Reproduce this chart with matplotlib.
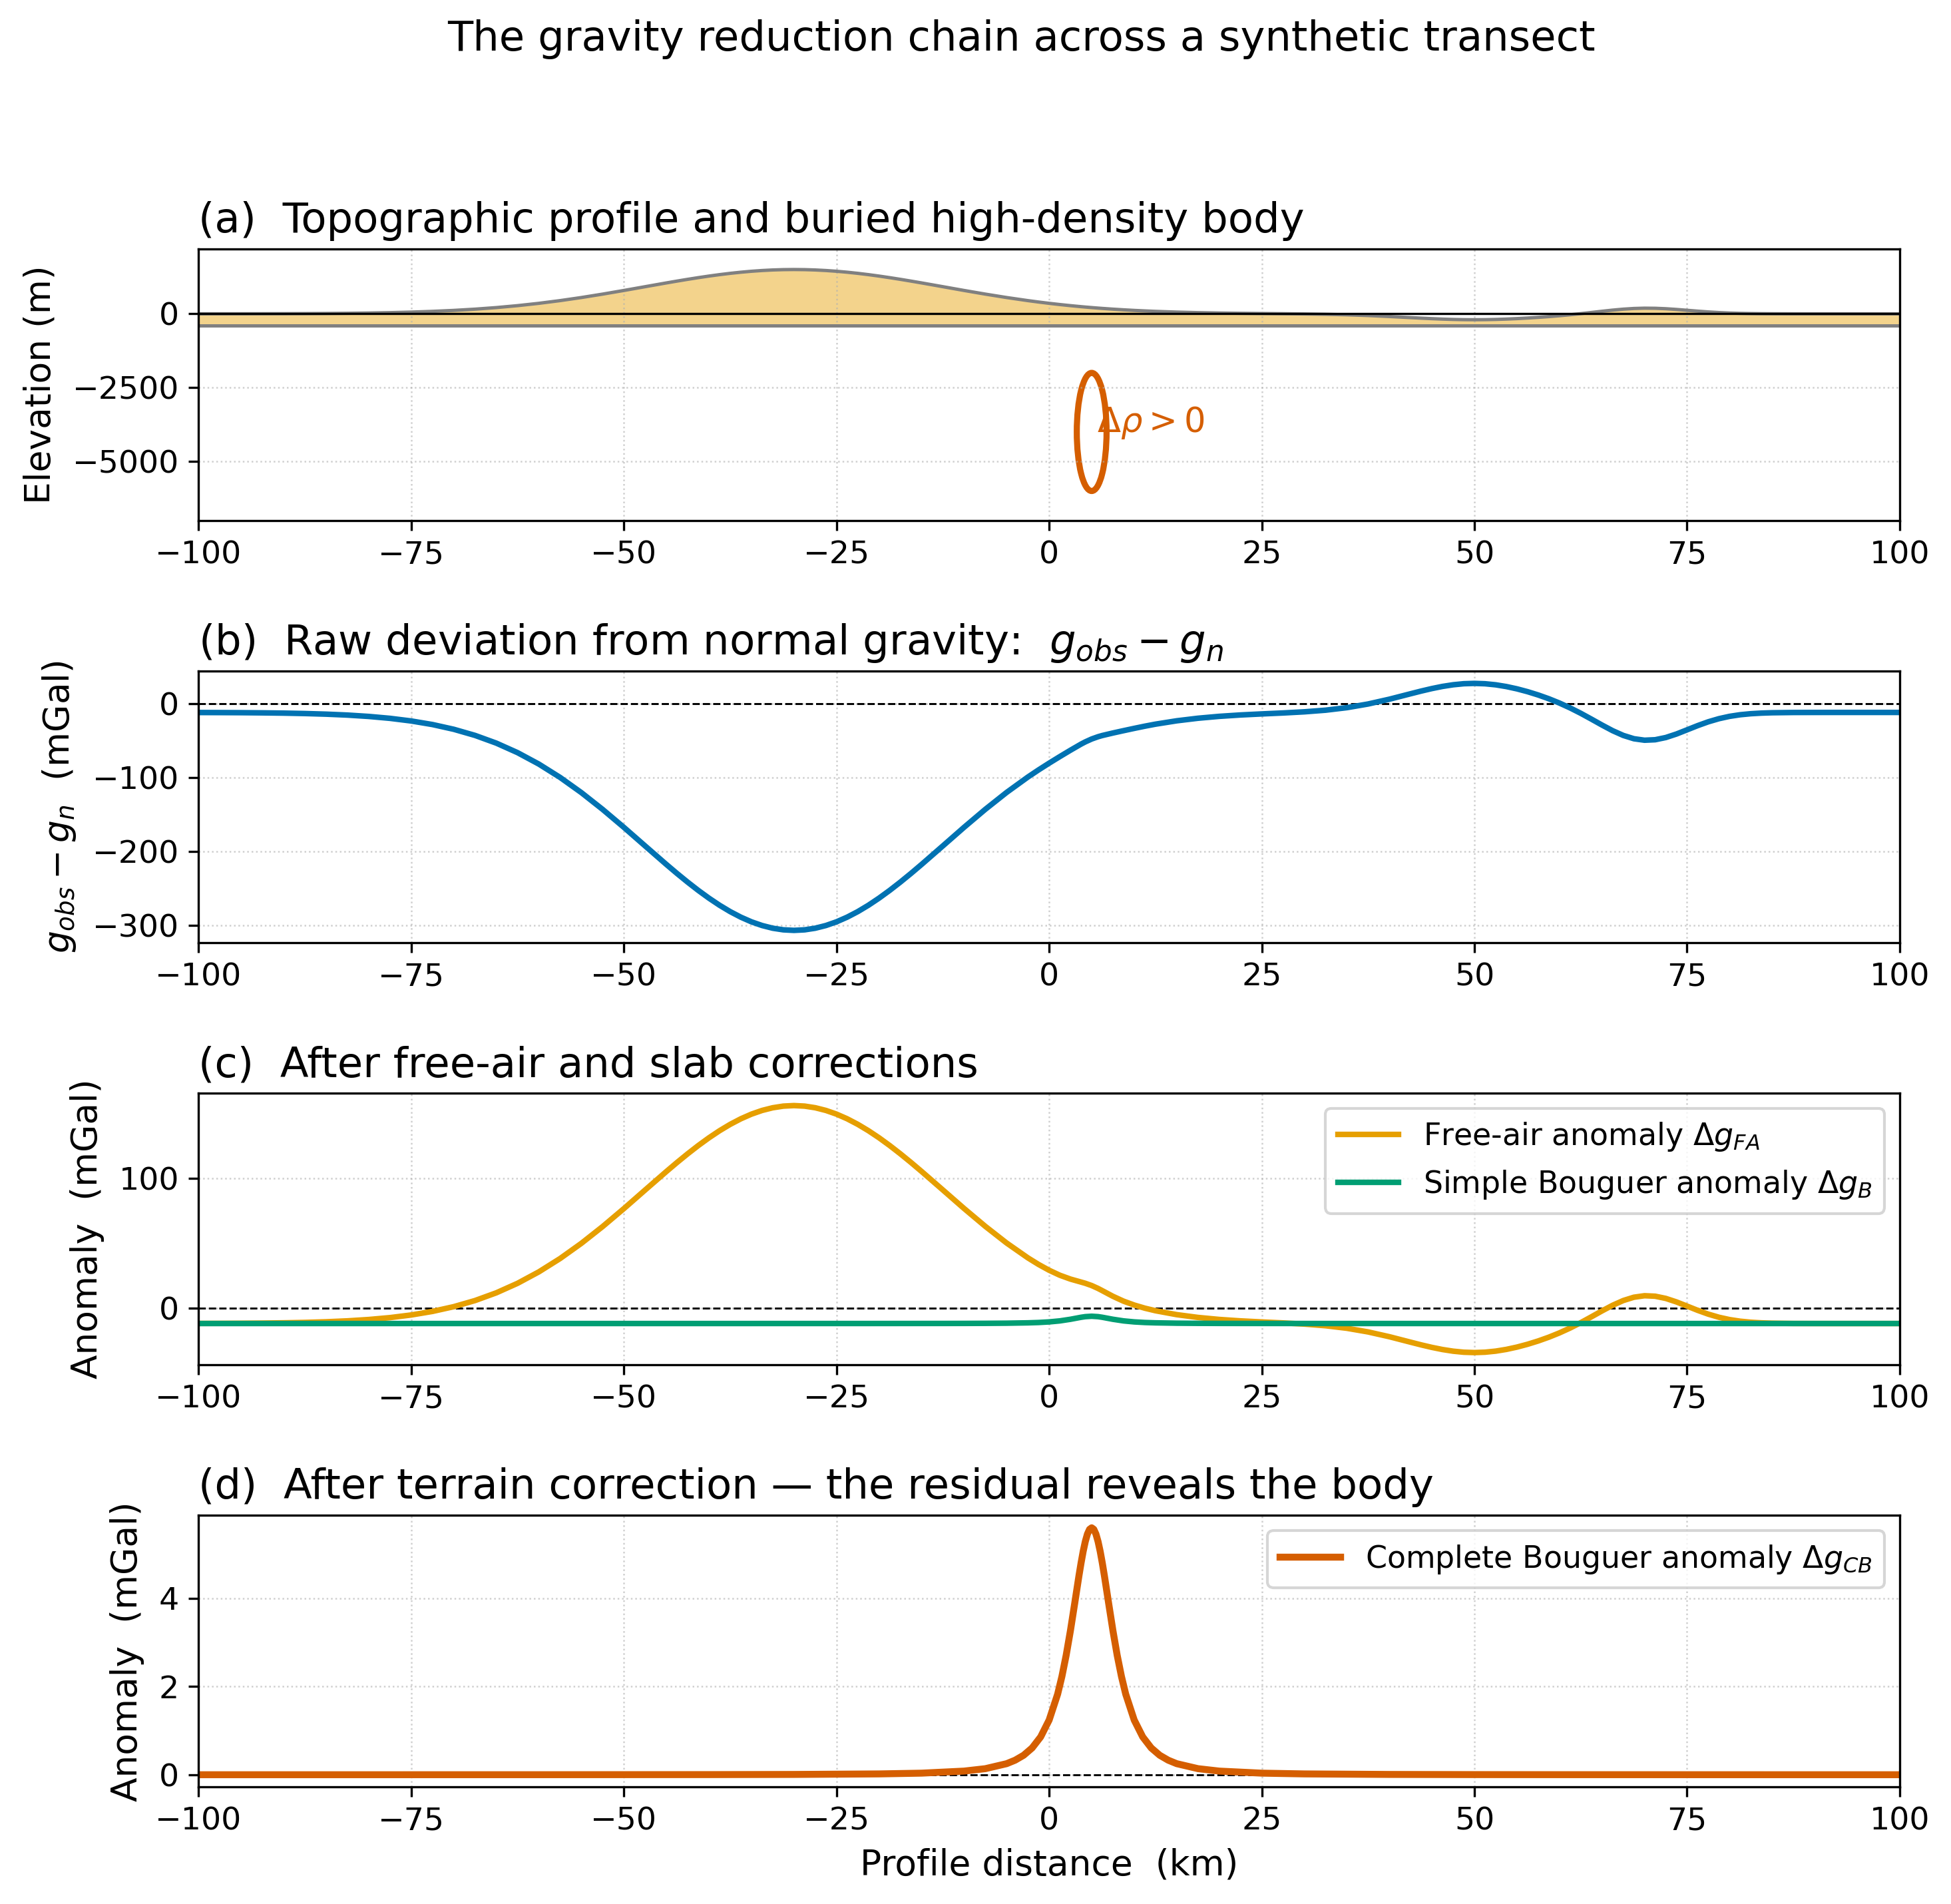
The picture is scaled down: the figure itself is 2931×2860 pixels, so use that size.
import matplotlib
matplotlib.use("Agg")
import matplotlib.pyplot as plt
from matplotlib.patches import Ellipse

# profile distance (km)
x_km = [-100, -97.5, -95, -92.5, -90, -87.5, -85, -82.5, -80, -77.5, -75, -72.5,
        -70, -67.5, -65, -62.5, -60, -57.5, -55, -52.5, -50, -47.5, -45, -42.5,
        -40, -37.5, -35, -32.5, -30, -27.5, -25, -22.5, -20, -17.5, -15, -12.5,
        -10, -7.5, -5, -2.5, -1.25, 0, 1.25, 2.5, 3.75, 5, 6.25, 7.5, 8.75, 10,
        11.25, 12.5, 15, 17.5, 20, 22.5, 25, 27.5, 30, 32.5, 35, 37.5, 40, 42.5,
        45, 47.5, 50, 52.5, 55, 57.5, 60, 62.5, 65, 67.5, 70, 72.5, 75, 77.5, 80,
        82.5, 85, 87.5, 90, 92.5, 95, 97.5, 100]

# topography (m)
topo_m = [0.6, 1.0, 1.7, 2.9, 4.7, 7.6, 11.9, 18.2, 27.5, 40.6, 58.8, 83.4,
          116.0, 158.1, 211.3, 276.8, 355.4, 447.3, 551.8, 667.3, 790.9, 919.0,
          1046.5, 1168.2, 1278.2, 1370.9, 1441.2, 1485.1, 1500.0, 1485.1, 1441.2,
          1370.9, 1278.2, 1168.2, 1046.5, 919.0, 790.9, 667.3, 551.8, 447.3,
          399.7, 355.4, 314.4, 276.8, 242.4, 211.3, 183.2, 158.1, 135.7, 116.0,
          98.6, 83.4, 58.8, 40.6, 27.3, 17.7, 10.4, 3.8, -4.1, -15.4, -32.8,
          -58.0, -91.0, -128.6, -164.3, -190.4, -199.9, -190.1, -162.3, -120.1,
          -64.5, 5.9, 86.8, 158.2, 191.2, 172.7, 119.8, 64.4, 26.9, 8.8, 2.2,
          0.4, 0.1, 0.0, 0.0, 0.0, 0.0]

# g_obs - g_n (mGal)
raw_dev = [-12.12, -12.20, -12.33, -12.57, -12.92, -13.49, -14.34, -15.58, -17.41,
           -19.99, -23.57, -28.40, -34.82, -43.10, -53.56, -66.45, -81.91, -99.98,
           -120.54, -143.26, -167.57, -192.77, -217.85, -241.78, -263.42, -281.66,
           -295.48, -304.12, -307.04, -304.11, -295.47, -281.65, -263.40, -241.75,
           -217.81, -192.72, -167.49, -143.12, -120.29, -99.46, -89.84, -80.67,
           -71.82, -63.19, -54.88, -47.96, -43.24, -39.84, -36.67, -33.58, -30.61,
           -27.88, -23.32, -19.85, -17.29, -15.43, -14.01, -12.72, -11.17, -8.96,
           -5.54, -0.58, 5.91, 13.30, 20.32, 25.45, 27.32, 25.39, 19.92, 11.62,
           0.69, -13.16, -29.07, -43.12, -49.61, -45.97, -35.56, -24.67, -17.29,
           -13.73, -12.43, -12.08, -12.02, -12.0, -12.0, -12.0, -12.0]

# free-air anomaly (mGal)
free_air = [-11.93, -11.89, -11.81, -11.68, -11.47, -11.15, -10.67, -9.96, -8.92,
            -7.46, -5.42, -2.67, 0.98, 5.69, 11.64, 18.97, 27.77, 38.05, 49.75,
            62.67, 76.50, 90.84, 105.10, 118.72, 131.03, 141.40, 149.27, 154.18,
            155.86, 154.19, 149.28, 141.41, 131.05, 118.75, 105.14, 90.89, 76.58,
            62.81, 50.00, 38.57, 33.51, 29.01, 25.20, 22.23, 19.92, 17.24, 13.30,
            8.95, 5.20, 2.22, -0.19, -2.15, -5.17, -7.32, -8.87, -9.97, -10.80,
            -11.54, -12.44, -13.71, -15.66, -18.48, -22.17, -26.39, -30.39, -33.31,
            -34.37, -33.27, -30.16, -25.44, -19.22, -11.34, -2.29, 5.70, 9.40, 7.33,
            1.41, -4.79, -8.99, -11.02, -11.75, -11.96, -11.99, -12.0, -12.0, -12.0,
            -12.0]

# simple Bouguer anomaly (mGal)
bouguer = [-12.0] * 27 + [
    -11.99, -11.99, -11.99, -11.99, -11.99, -11.98, -11.97, -11.96, -11.95,
    -11.92, -11.86, -11.75, -11.48, -11.22, -10.76, -9.98, -8.74, -7.20, -6.40,
    -7.20, -8.74, -9.98, -10.76, -11.22, -11.48, -11.75, -11.86, -11.92, -11.95,
    -11.96, -11.97, -11.98, -11.99, -11.99, -11.99, -11.99] + [-12.0] * 24

# extra readings where the curves bend most
x_extra = [-43.75, -41.25, -38.75, -36.25, -33.75, -31.25, -28.75, -26.25, -23.75,
           -21.25, -18.75, -16.25, 4.25, 5.75, 43.75, 46.25, 48.75, 51.25, 53.75,
           56.25, 58.75, 61.25, 63.75, 66.25, 68.75, 71.25, 73.75, 76.25, 78.75,
           81.25, 83.75]
topo_extra = [1108.5, 1225.0, 1327.1, 1409.1, 1466.6, 1496.3, 1496.3, 1466.6,
              1409.1, 1327.1, 1225.0, 1108.5, 229.6, 194.1, -147.2, -179.1, -197.6,
              -197.4, -178.2, -142.8, -94.1, -31.1, 45.9, 125.6, 181.0, 187.9,
              148.6, 90.7, 43.0, 15.8, 4.6]
raw_extra = [-230.04, -252.96, -273.04, -289.17, -300.47, -306.31, -306.31, -300.47,
             -289.16, -273.03, -252.94, -230.01, -51.87, -44.89, 16.95, 23.23, 26.87,
             26.83, 23.05, 16.09, 6.51, -5.88, -21.03, -36.71, -47.60, -48.96,
             -41.23, -29.84, -20.46, -15.11, -12.90]
fa_extra = [112.04, 125.08, 136.50, 145.68, 152.12, 155.45, 155.45, 152.12, 145.69,
            136.51, 125.10, 112.07, 18.98, 15.01, -28.47, -32.04, -34.11, -34.09,
            -31.94, -27.98, -22.53, -15.48, -6.86, 2.05, 8.25, 9.03, 4.63, -1.85,
            -7.19, -10.23, -11.49]
b_extra = [-12.0, -12.0, -12.0, -12.0, -11.99, -11.99, -11.99, -11.99, -11.99,
           -11.99, -11.98, -11.97, -6.71, -6.71] + [-12.0] * 17

# complete Bouguer anomaly (mGal), denser sampling around the body
cb_x = [-100, -80, -60, -40, -30, -20, -15, -10, -7.5, -5, -4, -3, -2, -1, 0, 1,
        1.5, 2, 2.5, 3, 3.5, 3.75, 4, 4.25, 4.5, 4.75, 5, 5.25, 5.5, 5.75, 6,
        6.25, 6.5, 7, 7.5, 8, 8.5, 9, 10, 11, 12, 13, 14, 15, 17.5, 20, 25, 30,
        40, 50, 60, 80, 100]
cb_val = [0.0003, 0.0005, 0.0011, 0.0033, 0.007, 0.019, 0.036, 0.083, 0.138,
          0.251, 0.330, 0.442, 0.608, 0.858, 1.241, 1.829, 2.229, 2.708, 3.265,
          3.881, 4.507, 4.800, 5.065, 5.288, 5.458, 5.564, 5.6, 5.564, 5.458,
          5.288, 5.065, 4.800, 4.507, 3.881, 3.265, 2.708, 2.229, 1.829, 1.241,
          0.858, 0.608, 0.442, 0.330, 0.251, 0.138, 0.083, 0.036, 0.019, 0.007,
          0.0033, 0.0018, 0.0007, 0.0004]

datum = -400
body_center = (5, -4000)
body_size = (3.5, 4000)

c_raw = "#0072b2"
c_fa = "#e69f00"
c_b = "#009e73"
c_cb = "#d55e00"

TICK = 11.4
LAB = 12.8
TIT = 15

# merge the extra readings into the main profile, ordered by distance
rows = sorted(zip(x_km + x_extra, topo_m + topo_extra, raw_dev + raw_extra,
                  free_air + fa_extra, bouguer + b_extra))
xs = [r[0] for r in rows]
topo = [r[1] for r in rows]
raw = [r[2] for r in rows]
fa = [r[3] for r in rows]
bg = [r[4] for r in rows]

fig, axes = plt.subplots(4, 1, figsize=(2931 / 300, 2860 / 300), dpi=300)
fig.subplots_adjust(left=0.1018, right=0.9737, top=0.8693, bottom=0.0614, hspace=0.554)

for ax in axes:
    ax.grid(True, ls=":", lw=0.6, alpha=0.6)
    ax.set_xlim(-100, 100)
    ax.set_xticks([-100, -75, -50, -25, 0, 25, 50, 75, 100])
    ax.tick_params(labelsize=TICK)

# (a)
ax = axes[0]
ax.fill_between(xs, topo, datum, color=c_fa, alpha=0.45, lw=0)
ax.plot(xs, topo, color="gray", lw=1.2)
ax.axhline(datum, color="gray", lw=1.2)
ax.axhline(0, color="k", lw=0.8)
ax.add_patch(Ellipse(body_center, body_size[0], body_size[1], fill=False,
                     ec=c_cb, lw=2.2))
ax.text(5.6, -4000, r"$\Delta\rho > 0$", color=c_cb, fontsize=12.3)
ax.set_ylim(-7000, 2200)
ax.set_yticks([-5000, -2500, 0])
ax.set_ylabel("Elevation (m)", fontsize=LAB, labelpad=5.3)
ax.set_title("(a)  Topographic profile and buried high-density body", loc="left", fontsize=TIT)

# (b)
ax = axes[1]
ax.axhline(0, color="k", ls="--", lw=0.7)
ax.plot(xs, raw, color=c_raw, lw=2.0)
ax.set_yticks([-300, -200, -100, 0])
ax.set_ylabel(r"$g_{obs} - g_n$  (mGal)", fontsize=LAB, labelpad=5.3)
ax.set_title(r"(b)  Raw deviation from normal gravity:  $g_{obs} - g_n$", loc="left", fontsize=TIT)

# (c)
ax = axes[2]
ax.axhline(0, color="k", ls="--", lw=0.7)
ax.plot(xs, fa, color=c_fa, lw=2.0, label=r"Free-air anomaly $\Delta g_{FA}$")
ax.plot(xs, bg, color=c_b, lw=2.0, label=r"Simple Bouguer anomaly $\Delta g_{B}$")
ax.set_yticks([0, 100])
ax.set_ylabel("Anomaly  (mGal)", fontsize=LAB, labelpad=5.3)
ax.set_title("(c)  After free-air and slab corrections", loc="left", fontsize=TIT)
ax.legend(loc="upper right", fontsize=11)

# (d)
ax = axes[3]
ax.axhline(0, color="k", ls="--", lw=0.7)
ax.plot(cb_x, cb_val, color=c_cb, lw=2.5, label=r"Complete Bouguer anomaly $\Delta g_{CB}$")
ax.set_yticks([0, 2, 4])
ax.set_ylabel("Anomaly  (mGal)", fontsize=LAB, labelpad=5.3)
ax.set_xlabel("Profile distance  (km)", fontsize=LAB)
ax.set_title("(d)  After terrain correction \u2014 the residual reveals the body", loc="left", fontsize=TIT)
ax.legend(loc="upper right", fontsize=11)

fig.suptitle("The gravity reduction chain across a synthetic transect", fontsize=TIT,
             x=0.5236, y=0.99, va="top")

fig.savefig("out.png", dpi=300)
